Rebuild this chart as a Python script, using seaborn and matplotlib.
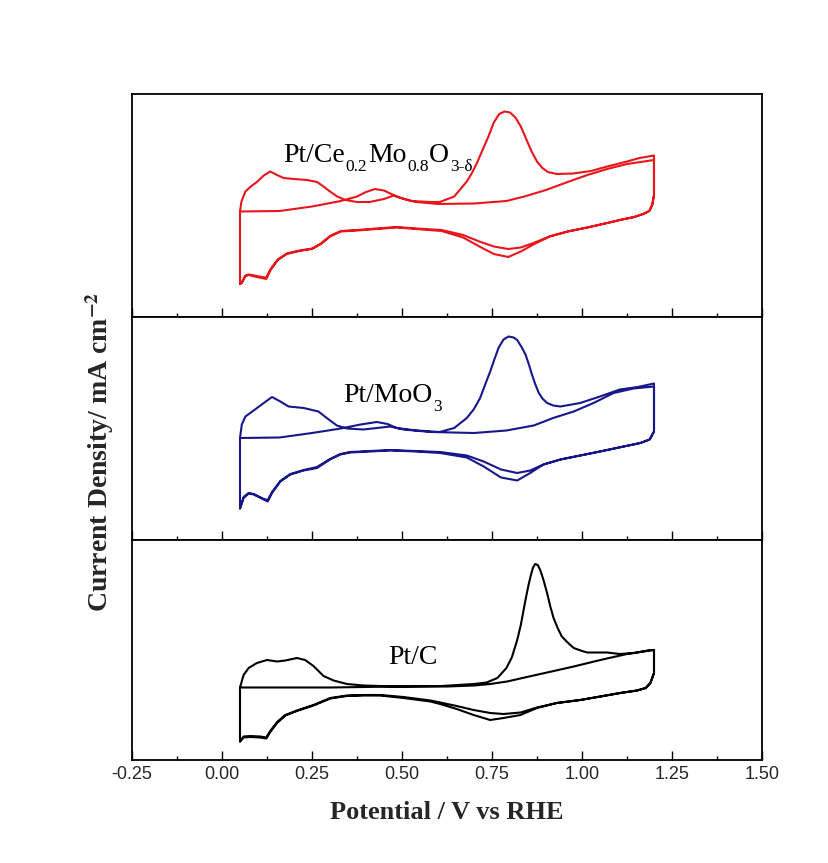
import numpy as np
import pandas as pd
import matplotlib
matplotlib.use("Agg")
import matplotlib.pyplot as plt
import seaborn as sns
from matplotlib.ticker import MultipleLocator, FormatStrFormatter

# ---------------- data (potential V vs RHE, current density in arbitrary units) ----------------
# Panel 1: Pt/Ce0.2Mo0.8O3-d (red)
E1_fwd1 = [0.05, 0.16, 0.25, 0.33, 0.375, 0.40, 0.425, 0.45, 0.485, 0.525, 0.58, 0.605, 0.645, 0.68,
           0.695, 0.71, 0.725, 0.74, 0.755, 0.77, 0.785, 0.80, 0.815, 0.83, 0.845, 0.86, 0.875, 0.89,
           0.905, 0.93, 0.975, 1.025, 1.07, 1.125, 1.16, 1.20]
I1_fwd1 = [0.0, 0.01, 0.10, 0.21, 0.30, 0.39, 0.45, 0.42, 0.30, 0.21, 0.19, 0.19, 0.30, 0.60,
           0.78, 1.00, 1.25, 1.50, 1.78, 1.95, 2.00, 1.98, 1.88, 1.70, 1.45, 1.20, 1.00, 0.87,
           0.79, 0.75, 0.76, 0.81, 0.90, 1.00, 1.07, 1.12]
E1_fwd2 = [0.05, 0.05, 0.054, 0.065, 0.08, 0.097, 0.116, 0.134, 0.153, 0.171, 0.20, 0.236, 0.264, 0.282,
           0.30, 0.32, 0.343, 0.375, 0.41, 0.45, 0.477, 0.505, 0.54, 0.60, 0.70, 0.79, 0.84, 0.90,
           0.96, 1.015, 1.07, 1.125, 1.20]
I1_fwd2 = [-1.45, 0.0, 0.20, 0.40, 0.50, 0.59, 0.72, 0.80, 0.73, 0.67, 0.65, 0.63, 0.59, 0.50,
           0.40, 0.30, 0.23, 0.19, 0.19, 0.25, 0.32, 0.25, 0.19, 0.15, 0.16, 0.21, 0.30, 0.43,
           0.59, 0.73, 0.85, 0.95, 1.03]
E1_rev = [1.20, 1.20, 1.195, 1.187, 1.17, 1.145, 1.105, 1.07, 1.015, 0.96, 0.91, 0.865, 0.83, 0.795,
          0.755, 0.715, 0.67, 0.61, 0.54, 0.485, 0.43, 0.375, 0.33, 0.30, 0.275, 0.25, 0.215, 0.18,
          0.155, 0.135, 0.123, 0.11, 0.09, 0.075, 0.065, 0.055, 0.05]
I1_rev1 = [1.12, 0.33, 0.13, 0.01, -0.05, -0.11, -0.17, -0.23, -0.32, -0.40, -0.50, -0.66, -0.80, -0.91,
           -0.85, -0.70, -0.52, -0.39, -0.35, -0.32, -0.35, -0.38, -0.40, -0.50, -0.65, -0.75, -0.79, -0.85,
           -0.97, -1.17, -1.35, -1.33, -1.30, -1.27, -1.29, -1.43, -1.45]
I1_rev2 = [1.03, 0.33, 0.13, 0.01, -0.05, -0.11, -0.17, -0.23, -0.32, -0.40, -0.50, -0.63, -0.72, -0.75,
           -0.70, -0.60, -0.47, -0.37, -0.34, -0.31, -0.34, -0.37, -0.39, -0.49, -0.64, -0.74, -0.78, -0.84,
           -0.96, -1.15, -1.32, -1.31, -1.28, -1.26, -1.28, -1.42, -1.45]

# Panel 2: Pt/MoO3 (navy)
E2_fwd1 = [0.05, 0.16, 0.25, 0.33, 0.385, 0.43, 0.46, 0.485, 0.54, 0.605, 0.645, 0.68, 0.70, 0.717,
           0.73, 0.745, 0.757, 0.768, 0.782, 0.796, 0.81, 0.82, 0.832, 0.843, 0.852, 0.861, 0.87, 0.88,
           0.89, 0.903, 0.92, 0.94, 0.995, 1.05, 1.105, 1.155, 1.20]
I2_fwd1 = [0.0, 0.01, 0.10, 0.19, 0.27, 0.32, 0.28, 0.20, 0.15, 0.12, 0.20, 0.40, 0.58, 0.80,
           1.05, 1.33, 1.58, 1.80, 1.97, 2.03, 2.01, 1.96, 1.82, 1.67, 1.48, 1.27, 1.08, 0.90,
           0.79, 0.70, 0.65, 0.63, 0.70, 0.83, 0.97, 1.02, 1.09]
E2_fwd2 = [0.05, 0.05, 0.055, 0.065, 0.088, 0.116, 0.139, 0.162, 0.185, 0.227, 0.268, 0.291, 0.319, 0.347,
           0.393, 0.43, 0.467, 0.504, 0.58, 0.70, 0.79, 0.866, 0.92, 0.977, 1.032, 1.088, 1.143, 1.20]
I2_fwd2 = [-1.41, 0.0, 0.27, 0.43, 0.55, 0.70, 0.82, 0.73, 0.63, 0.60, 0.53, 0.40, 0.25, 0.19,
           0.17, 0.20, 0.23, 0.17, 0.12, 0.10, 0.15, 0.25, 0.40, 0.53, 0.70, 0.90, 0.99, 1.03]
E2_rev = [1.20, 1.20, 1.188, 1.162, 1.116, 1.05, 0.995, 0.94, 0.893, 0.856, 0.82, 0.775, 0.727, 0.68,
          0.606, 0.54, 0.467, 0.41, 0.356, 0.329, 0.30, 0.264, 0.227, 0.19, 0.162, 0.139, 0.127, 0.116,
          0.088, 0.074, 0.06, 0.05]
I2_rev1 = [1.09, 0.13, -0.03, -0.10, -0.17, -0.27, -0.35, -0.43, -0.53, -0.70, -0.85, -0.79, -0.57, -0.39,
           -0.30, -0.27, -0.25, -0.27, -0.29, -0.33, -0.43, -0.60, -0.65, -0.73, -0.87, -1.10, -1.27, -1.23,
           -1.13, -1.11, -1.20, -1.41]
I2_rev2 = [1.03, 0.13, -0.03, -0.10, -0.17, -0.27, -0.35, -0.43, -0.53, -0.65, -0.70, -0.63, -0.47, -0.35,
           -0.28, -0.26, -0.24, -0.26, -0.28, -0.32, -0.42, -0.58, -0.64, -0.72, -0.86, -1.08, -1.24, -1.22,
           -1.12, -1.10, -1.18, -1.41]

# Panel 3: Pt/C (black)
E3_fwd1 = [0.05, 0.30, 0.49, 0.61, 0.70, 0.735, 0.765, 0.79, 0.805, 0.82, 0.83, 0.843, 0.85, 0.857,
           0.864, 0.87, 0.877, 0.884, 0.893, 0.903, 0.912, 0.921, 0.933, 0.944, 0.96, 0.977, 1.0, 1.015,
           1.07, 1.105, 1.145, 1.19, 1.20]
I3_fwd1 = [0.0, 0.0, 0.02, 0.03, 0.07, 0.10, 0.19, 0.39, 0.60, 0.95, 1.25, 1.75, 2.0, 2.22,
           2.40, 2.47, 2.45, 2.35, 2.15, 1.89, 1.62, 1.39, 1.18, 1.02, 0.90, 0.79, 0.73, 0.70,
           0.70, 0.67, 0.69, 0.75, 0.75]
E3_fwd2 = [0.05, 0.05, 0.06, 0.074, 0.097, 0.125, 0.153, 0.176, 0.208, 0.231, 0.254, 0.282, 0.31, 0.347,
           0.393, 0.486, 0.625, 0.70, 0.745, 0.792, 0.847, 0.903, 0.977, 1.051, 1.125, 1.19, 1.20]
I3_fwd2 = [-1.08, 0.0, 0.25, 0.39, 0.49, 0.55, 0.52, 0.54, 0.59, 0.55, 0.43, 0.23, 0.14, 0.07,
           0.04, 0.02, 0.02, 0.04, 0.07, 0.12, 0.21, 0.30, 0.42, 0.55, 0.67, 0.74, 0.75]
E3_rev = [1.20, 1.20, 1.19, 1.177, 1.153, 1.106, 1.051, 0.995, 0.93, 0.875, 0.829, 0.782, 0.745, 0.699,
          0.652, 0.606, 0.579, 0.504, 0.44, 0.393, 0.347, 0.301, 0.254, 0.208, 0.176, 0.153, 0.134, 0.123,
          0.106, 0.079, 0.06, 0.05]
I3_rev1 = [0.75, 0.29, 0.09, -0.01, -0.06, -0.11, -0.18, -0.25, -0.31, -0.41, -0.55, -0.61, -0.65, -0.55,
           -0.43, -0.33, -0.28, -0.21, -0.16, -0.16, -0.17, -0.22, -0.36, -0.47, -0.56, -0.71, -0.89, -1.02,
           -1.00, -0.99, -1.00, -1.08]
I3_rev2 = [0.75, 0.29, 0.09, -0.01, -0.06, -0.11, -0.18, -0.25, -0.31, -0.40, -0.50, -0.53, -0.51, -0.45,
           -0.37, -0.30, -0.26, -0.19, -0.15, -0.15, -0.16, -0.21, -0.35, -0.46, -0.55, -0.69, -0.87, -1.00,
           -0.98, -0.97, -0.98, -1.08]

# sample labels as (text, is_subscript) pieces
label_parts = [
    [("Pt/Ce", False), ("0.2", True), ("Mo", False), ("0.8", True), ("O", False), ("3-δ", True)],
    [("Pt/MoO", False), ("3", True)],
    [("Pt/C", False)],
]
colors = ["#E8161C", "#17178C", "#000000"]
xtick_vals = [-0.25, 0.0, 0.25, 0.5, 0.75, 1.0, 1.25, 1.5]

# ---------------- style ----------------
sns.set_theme(style="ticks")
plt.rcParams.update({
    "font.family": ["Liberation Sans", "DejaVu Sans"],
    "mathtext.fontset": "stix",
    "axes.unicode_minus": False,
    "axes.linewidth": 1.3,
    "axes.edgecolor": "black",
})

W, H = 829, 863
fig = plt.figure(figsize=(W / 100, H / 100), dpi=100)
left, right = 132, 762
rows = [(94, 317), (317, 540), (540, 760)]
axes = [fig.add_axes([left / W, 1 - b / H, (right - left) / W, (b - t) / H]) for t, b in rows]

panels = [
    (E1_fwd1, I1_fwd1, E1_rev, I1_rev1, E1_fwd2, I1_fwd2, I1_rev2),
    (E2_fwd1, I2_fwd1, E2_rev, I2_rev1, E2_fwd2, I2_fwd2, I2_rev2),
    (E3_fwd1, I3_fwd1, E3_rev, I3_rev1, E3_fwd2, I3_fwd2, I3_rev2),
]
ylims = [(-2.11, 2.35), (-2.04, 2.42), (-1.45, 2.95)]
label_pos = [(0.17, 1.0), (0.338, 0.73), (0.463, 0.47)]


def chem_label(ax, x, y, parts, size=20, subsize=12.5, drop=7.0):
    t = ax.text(x, y, parts[0][0], fontsize=size, family="Liberation Serif",
                ha="left", va="baseline", color="black")
    for txt, sub in parts[1:]:
        t = ax.annotate(txt, xy=(1, y), xycoords=(t, "data"),
                        xytext=(0.5, -drop if sub else 0), textcoords="offset points",
                        fontsize=subsize if sub else size, family="Liberation Serif",
                        ha="left", va="baseline", color="black")


for ax, p, col, yl, parts, lp in zip(axes, panels, colors, ylims, label_parts, label_pos):
    ef1, if1, er, ir1, ef2, if2, ir2 = p
    assert len(ef1) == len(if1) and len(ef2) == len(if2) and len(er) == len(ir1) == len(ir2)
    E = list(ef1) + list(er) + list(ef2) + list(er)
    I = list(if1) + list(ir1) + list(if2) + list(ir2)
    df = pd.DataFrame({"E": E, "I": I})
    sns.lineplot(data=df, x="E", y="I", sort=False, estimator=None, color=col, lw=1.5, ax=ax)
    ax.set_xlim(-0.25, 1.5)
    ax.set_ylim(*yl)
    ax.set_yticks([])
    ax.set_xlabel("")
    ax.set_ylabel("")
    ax.set_xticks(xtick_vals)
    ax.xaxis.set_minor_locator(MultipleLocator(0.125))
    ax.xaxis.set_major_formatter(FormatStrFormatter("%.2f"))
    ax.tick_params(axis="x", which="both", direction="in", top=False, bottom=True,
                   width=1.0, color="black")
    ax.tick_params(axis="x", which="major", length=6.5, pad=4.5, labelsize=13)
    ax.tick_params(axis="x", which="minor", length=3)
    for s in ax.spines.values():
        s.set_visible(True)
        s.set_color("black")
        s.set_linewidth(1.3)
    chem_label(ax, lp[0], lp[1], parts)

for ax in axes[:-1]:
    ax.tick_params(axis="x", labelbottom=False)

fig.text((left + right) / 2 / W, 1 - 812 / H, "Potential / V vs RHE", ha="center", va="center",
         fontsize=19, fontweight="bold", family="Liberation Serif")
fig.text(100 / W, 1 - 452 / H, r"Current Density/ mA cm$^{\mathbf{-2}}$", ha="center", va="center",
         rotation=90, fontsize=20, fontweight="bold", family="Liberation Serif")

fig.savefig("out.png", dpi=100, facecolor="white")
